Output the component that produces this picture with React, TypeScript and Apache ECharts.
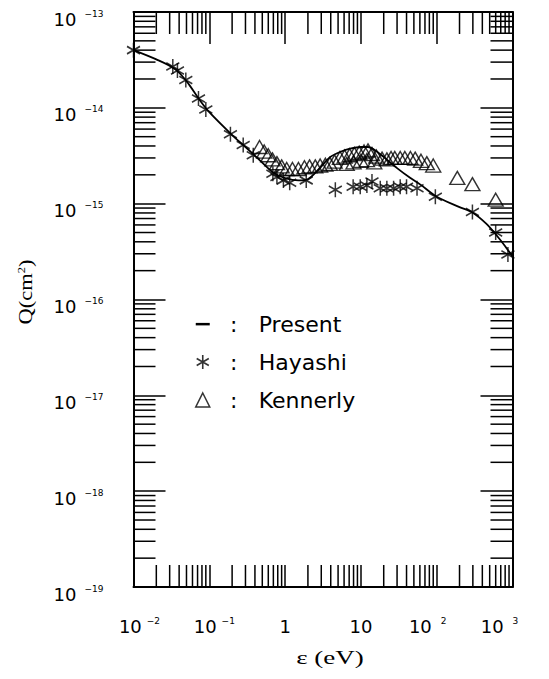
import React, { useEffect, useRef } from 'react';
import * as echarts from 'echarts';

// ---- data (energy eV, cross section cm^2) ----
const presentCurve: [number, number][] = [
  [0.01, 4.0e-14], [0.02, 3.2e-14], [0.035, 2.55e-14], [0.05, 1.9e-14], [0.075, 1.2e-14],
  [0.1, 9.0e-15], [0.2, 5.2e-15], [0.3, 3.9e-15], [0.45, 2.9e-15], [0.7, 2.1e-15],
  [1.0, 1.85e-15], [1.5, 1.75e-15], [2.0, 1.8e-15], [2.8, 2.3e-15], [3.9, 3.05e-15],
  [5.5, 3.5e-15], [7.2, 3.75e-15], [10, 3.9e-15], [12.4, 3.9e-15], [15, 3.65e-15],
  [19.7, 3.1e-15], [30, 2.35e-15], [45, 1.85e-15], [61, 1.58e-15], [100, 1.18e-15],
  [200, 9.2e-16], [296, 8.1e-16], [450, 6.2e-16], [600, 4.8e-16], [800, 3.6e-16], [1000, 2.8e-16],
];

const hayashi: [number, number][] = [
  [0.01, 4.0e-14], [0.033, 2.7e-14], [0.038, 2.45e-14], [0.049, 1.95e-14], [0.072, 1.25e-14],
  [0.09, 9.6e-15], [0.19, 5.3e-15], [0.28, 4.1e-15], [0.38, 3.2e-15], [0.69, 2.05e-15],
  [0.78, 1.9e-15], [0.95, 1.75e-15], [1.15, 1.65e-15], [1.9, 1.75e-15], [4.6, 1.4e-15],
  [7.9, 1.5e-15], [9.8, 1.5e-15], [12, 1.55e-15], [14, 1.7e-15], [18, 1.45e-15],
  [22, 1.45e-15], [27, 1.45e-15], [33, 1.5e-15], [40, 1.5e-15], [55, 1.45e-15],
  [96, 1.18e-15], [296, 8.2e-16], [600, 5.0e-16], [870, 2.95e-16],
];

const kennerly: [number, number][] = [
  [0.46, 3.9e-15], [0.53, 3.5e-15], [0.6, 3.2e-15], [0.68, 2.9e-15], [0.78, 2.65e-15],
  [0.9, 2.45e-15], [1.05, 2.3e-15], [1.25, 2.3e-15], [1.5, 2.3e-15], [1.8, 2.4e-15],
  [2.1, 2.45e-15], [2.5, 2.45e-15], [2.9, 2.5e-15], [3.4, 2.55e-15], [3.9, 2.6e-15],
  [4.5, 2.75e-15], [5.3, 3.0e-15], [6.1, 3.1e-15], [6.5, 2.6e-15], [7.1, 3.2e-15],
  [8.0, 2.7e-15], [8.2, 3.3e-15], [9.5, 3.4e-15], [10, 2.8e-15], [11, 3.5e-15],
  [12, 2.85e-15], [12.4, 3.6e-15], [14, 3.3e-15], [15, 2.7e-15], [16, 3.1e-15],
  [19, 2.95e-15], [22, 2.9e-15], [25, 3.0e-15], [28, 3.0e-15], [33, 3.0e-15],
  [38, 3.0e-15], [45, 3.0e-15], [52, 2.95e-15], [62, 2.8e-15], [74, 2.65e-15],
  [90, 2.5e-15], [187, 1.86e-15], [296, 1.6e-15], [600, 1.1e-15],
];

const xDecades = [-2, -1, 0, 1, 2, 3];
const yDecades = [-19, -18, -17, -16, -15, -14, -13];
const minorMultipliers = [2, 3, 4, 5, 6, 7, 8, 9];

// ---- styling constants ----
const FONT = "'DejaVu Sans', sans-serif";
const SERIF = "'Liberation Serif', 'DejaVu Serif', serif";
const STAR = 'path://M0,-1V1M-0.866,-0.5L0.866,0.5M-0.866,0.5L0.866,-0.5';
const DASH = 'path://M0,0M14,14M0,5.9H14V8.4H0Z';
const MAJOR_LEN = 32;
const MINOR_LEN = 22;
const X_MIN = Math.pow(10, xDecades[0]);
const X_MAX = Math.pow(10, xDecades[xDecades.length - 1]);
const Y_MIN = Math.pow(10, yDecades[0]);
const Y_MAX = Math.pow(10, yDecades[yDecades.length - 1]);

const xLabelShift: Record<string, number> = { '-2': 6, '-1': 5, '2': -9, '3': -13 };

function minorValues(decades: number[]): number[] {
  const out: number[] = [];
  for (let i = 0; i < decades.length - 1; i++) {
    for (const m of minorMultipliers) out.push(m * Math.pow(10, decades[i]));
  }
  return out;
}

const richBase: any = {
  b: { fontFamily: FONT, fontSize: 18, lineHeight: 20, color: '#000' },
  s: { fontFamily: FONT, fontSize: 9, lineHeight: 8, verticalAlign: 'top', padding: [0, 0, 0, 8], color: '#000' },
  sn: { fontFamily: FONT, fontSize: 9, lineHeight: 8, verticalAlign: 'top', padding: [0, 0, 0, 5], color: '#000' },
  sp: { fontFamily: FONT, fontSize: 9, lineHeight: 8, verticalAlign: 'top', padding: [0, 0, 0, 9], color: '#000' },
};
Object.values(xLabelShift).forEach((sh) => {
  const w = Math.abs(sh) * 2;
  richBase['g' + w] = { width: w, fontSize: 1, lineHeight: 20 };
});

function xFormatter(v: number): string {
  const e = Math.round(Math.log10(v));
  let core: string;
  if (e === 0) core = '{b|1}';
  else if (e === 1) core = '{b|10}';
  else if (e < 0) core = `{b|10}{sn|\u2212${-e}}`;
  else core = `{b|10}{sp|${e}}`;
  const sh = xLabelShift[String(e)] || 0;
  if (sh > 0) core = `{g${sh * 2}| }` + core;
  else if (sh < 0) core = core + `{g${-sh * 2}| }`;
  return core;
}

function yFormatter(v: number): string {
  const e = Math.round(Math.log10(v));
  return `{b|10}{s|\u2212${-e}}`;
}

function minorTickSeries(axis: 'x' | 'y'): any {
  const data = axis === 'x'
    ? minorValues(xDecades).map((v) => [v, Y_MIN])
    : minorValues(yDecades).map((v) => [X_MIN, v]);
  return {
    type: 'custom',
    coordinateSystem: 'cartesian2d',
    silent: true,
    clip: false,
    z: 5,
    data,
    renderItem: (params: any, api: any) => {
      const cs = params.coordSys;
      const p = api.coord([api.value(0), api.value(1)]);
      const st = { stroke: '#000', lineWidth: 1.5 };
      if (axis === 'x') {
        const b = cs.y + cs.height;
        const t = cs.y;
        return {
          type: 'group',
          children: [
            { type: 'line', shape: { x1: p[0], y1: b, x2: p[0], y2: b - MINOR_LEN }, style: st },
            { type: 'line', shape: { x1: p[0], y1: t, x2: p[0], y2: t + MINOR_LEN }, style: st },
          ],
        };
      }
      const l = cs.x;
      const r = cs.x + cs.width;
      return {
        type: 'group',
        children: [
          { type: 'line', shape: { x1: l, y1: p[1], x2: l + MINOR_LEN, y2: p[1] }, style: st },
          { type: 'line', shape: { x1: r, y1: p[1], x2: r - MINOR_LEN, y2: p[1] }, style: st },
        ],
      };
    },
  };
}

function axisCommon(majorLen: number) {
  return {
    axisLine: { show: true, onZero: false, lineStyle: { color: '#000', width: 2 } },
    axisTick: { show: true, inside: true, length: majorLen, lineStyle: { color: '#000', width: 1.5 } },
    splitLine: { show: false },
    minorTick: { show: false },
  };
}

function buildOption(): any {
  return {
    animation: false,
    backgroundColor: '#fff',
    grid: { left: 133.5, right: 36.5, top: 12, bottom: 92 },
    xAxis: [
      {
        type: 'log', logBase: 10, min: X_MIN, max: X_MAX, splitNumber: xDecades.length - 1,
        position: 'bottom',
        ...axisCommon(MINOR_LEN),
        axisLabel: {
          show: true, margin: 29, formatter: xFormatter, rich: richBase,
          showMinLabel: true, showMaxLabel: true, hideOverlap: false,
        },
      },
      {
        type: 'log', logBase: 10, min: X_MIN, max: X_MAX, splitNumber: xDecades.length - 1,
        position: 'top',
        ...axisCommon(MAJOR_LEN),
        axisLabel: { show: false },
      },
    ],
    yAxis: [
      {
        type: 'log', logBase: 10, min: Y_MIN, max: Y_MAX, splitNumber: yDecades.length - 1,
        position: 'left',
        ...axisCommon(MAJOR_LEN),
        axisLabel: {
          show: true, margin: 30, formatter: yFormatter, rich: richBase,
          padding: [14, 0, 0, 0], showMinLabel: true, showMaxLabel: true,
        },
      },
      {
        type: 'log', logBase: 10, min: Y_MIN, max: Y_MAX, splitNumber: yDecades.length - 1,
        position: 'right',
        ...axisCommon(MAJOR_LEN),
        axisLabel: { show: false },
      },
    ],
    legend: {
      orient: 'vertical',
      left: 190,
      top: 308,
      itemWidth: 14,
      itemHeight: 14,
      itemGap: 16,
      selectedMode: false,
      data: [
        { name: 'Present', icon: DASH, itemStyle: { color: '#000', borderWidth: 0 }, lineStyle: { width: 0, opacity: 0 } },
        { name: 'Hayashi', icon: STAR, itemStyle: { color: 'transparent', borderColor: '#000', borderWidth: 1.6 } },
        { name: 'Kennerly', icon: 'triangle', itemStyle: { color: 'transparent', borderColor: '#000', borderWidth: 1.5 } },
      ],
      formatter: (n: string) => `{c|:}{n|${n}}`,
      textStyle: {
        fontFamily: FONT, fontSize: 22, color: '#000',
        rich: {
          c: { fontFamily: FONT, fontSize: 22, lineHeight: 20, width: 38, align: 'center', color: '#000' },
          n: { fontFamily: FONT, fontSize: 22, lineHeight: 20, padding: [0, 0, 0, 6], color: '#000' },
        },
      },
    },
    graphic: [
      {
        type: 'text', x: 330, y: 658, scaleX: 1.5,
        style: { text: '\u03b5 (eV)', font: `18px ${SERIF}`, fill: '#000', align: 'center', verticalAlign: 'middle' },
      },
      {
        type: 'text', x: 26, y: 292, rotation: Math.PI / 2, scaleX: 1.25,
        style: {
          text: '{q|Q(cm}{t|2}{q|)}', align: 'center', verticalAlign: 'middle', fill: '#000',
          rich: {
            q: { fontFamily: SERIF, fontSize: 18, lineHeight: 20, fill: '#000' } as any,
            t: { fontFamily: SERIF, fontSize: 10, lineHeight: 9, verticalAlign: 'top', fill: '#000' } as any,
          },
        },
      },
    ],
    series: [
      minorTickSeries('x'),
      minorTickSeries('y'),
      {
        name: 'Present', type: 'line', data: presentCurve, symbol: 'none', smooth: 0.3,
        lineStyle: { color: '#000', width: 1.8 }, itemStyle: { color: '#000' }, z: 3, clip: false,
      },
      {
        name: 'Hayashi', type: 'scatter', data: hayashi, symbol: STAR, symbolSize: [13, 15],
        itemStyle: { color: 'transparent', borderColor: '#000', borderWidth: 1.6 }, z: 4, clip: false,
      },
      {
        name: 'Kennerly', type: 'scatter', data: kennerly, symbol: 'triangle', symbolSize: [15, 13],
        itemStyle: { color: 'transparent', borderColor: '#000', borderWidth: 1.4 }, z: 4, clip: false,
      },
    ],
  };
}

export default function App() {
  const ref = useRef<HTMLDivElement>(null);
  useEffect(() => {
    if (!ref.current) return;
    const chart = echarts.init(ref.current, null, { renderer: 'svg' });
    chart.setOption(buildOption());
    return () => chart.dispose();
  }, []);
  return (
    <div
      ref={ref}
      style={{ position: 'fixed', left: 0, top: 0, width: 549, height: 679, background: '#fff' }}
    />
  );
}
